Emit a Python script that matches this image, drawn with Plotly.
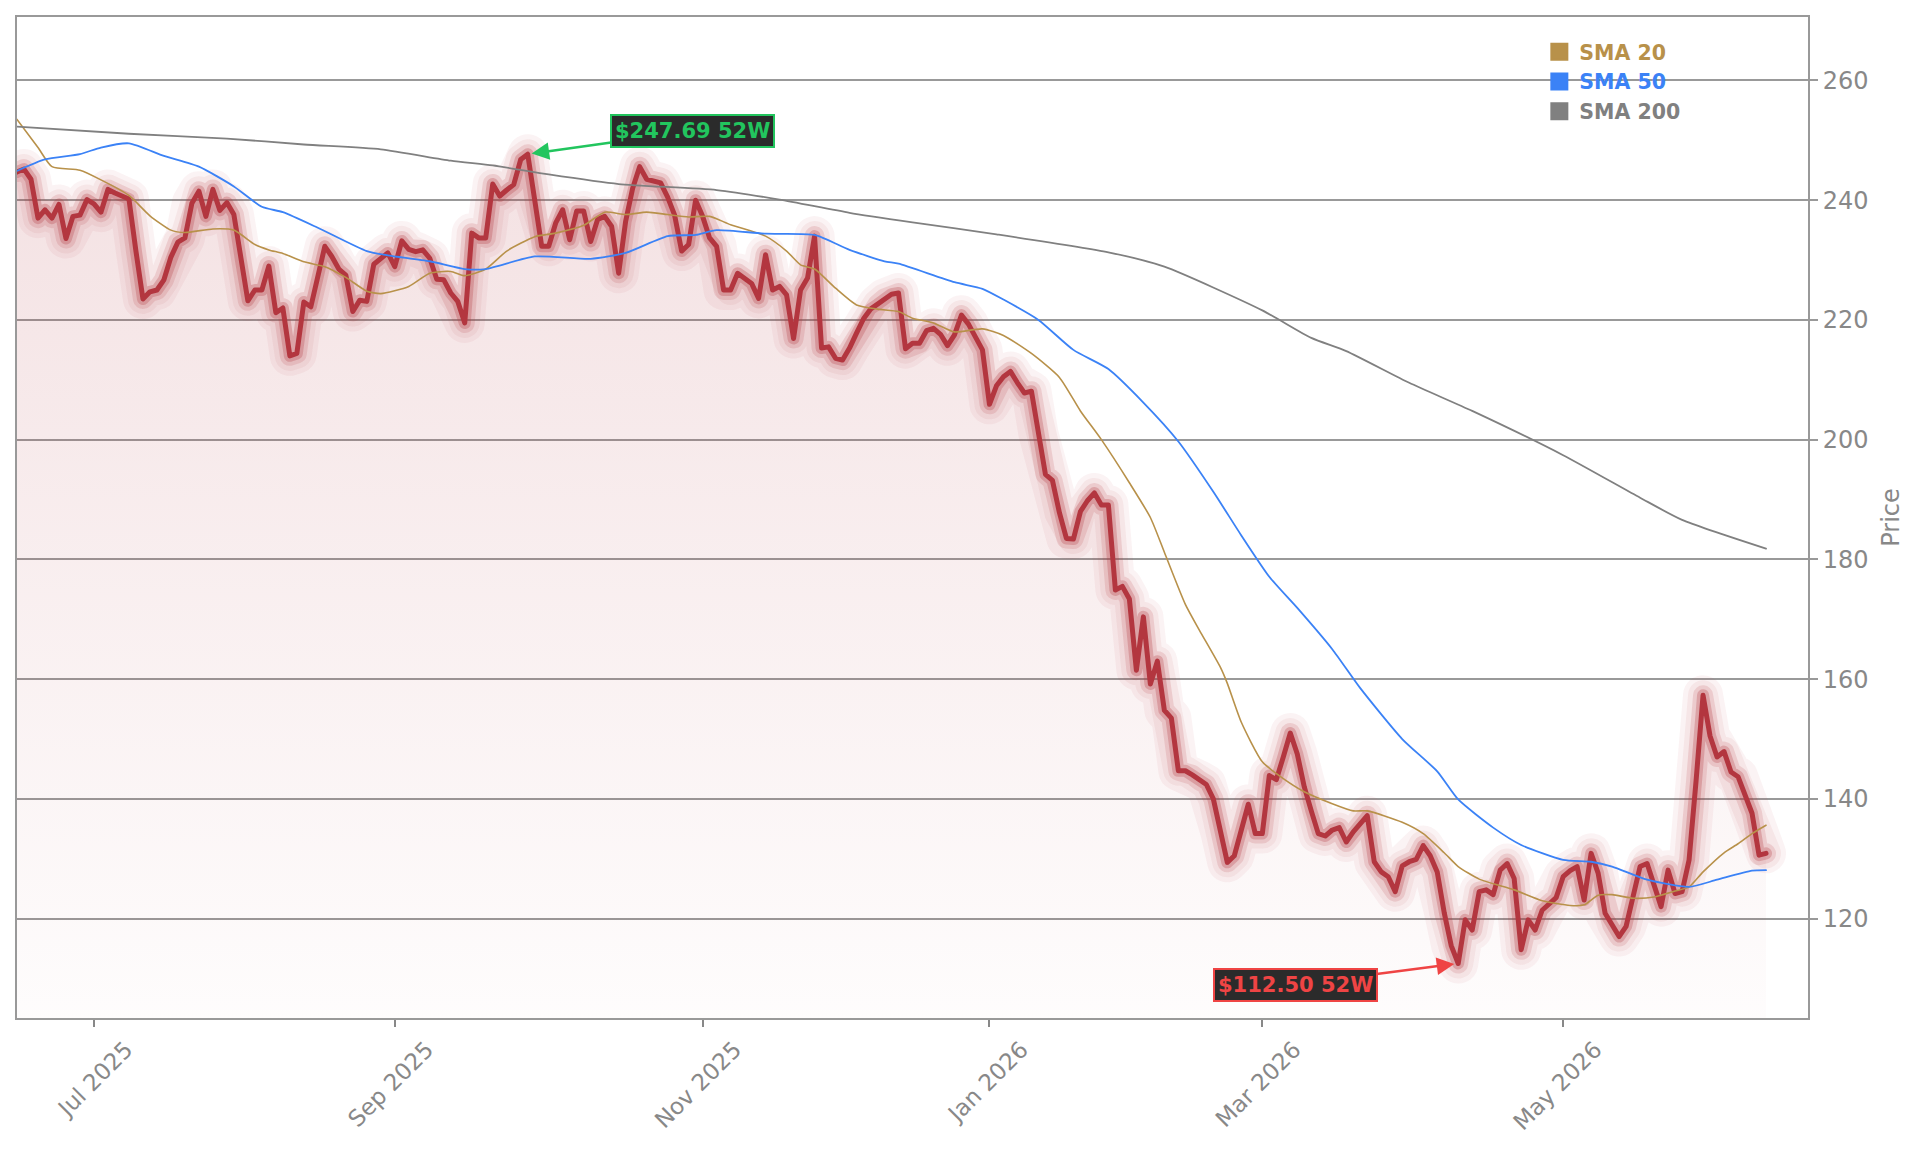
import pandas as pd
import plotly.graph_objects as go

# ---------------- data ----------------
holidays = ["2025-06-19", "2025-07-04", "2025-09-01", "2025-11-27", "2025-12-25",
            "2026-01-01", "2026-01-19", "2026-02-16", "2026-04-03", "2026-05-25",
            "2026-06-19"]
start_date = "2025-06-13"

price = [
    244.7, 245.2, 243.5, 237.0, 238.4, 237.0, 239.3, 233.6, 237.3, 237.5,
    240.1, 239.4, 238.0, 241.8, 241.2, 240.7, 240.2, 231.5, 223.5, 224.7,
    225.0, 226.7, 230.5, 233.0, 233.7, 239.5, 241.5, 237.3, 241.8, 238.3,
    239.6, 237.6, 230.0, 223.2, 225.0, 225.0, 229.0, 221.2, 222.0, 214.0,
    214.4, 223.0, 222.2, 227.5, 232.3, 230.6, 228.5, 227.5, 221.4, 223.3,
    223.1, 229.3, 230.2, 231.2, 228.9, 233.2, 231.8, 231.4, 231.7, 230.3,
    226.8, 226.7, 224.5, 223.1, 219.5, 234.5, 233.7, 233.7, 242.7, 240.7,
    241.7, 242.6, 246.8, 247.69, 240.0, 232.3, 232.3, 236.2, 238.4, 233.4,
    238.2, 238.2, 233.1, 236.8, 237.3, 235.6, 227.8, 236.5, 242.0, 245.6,
    243.5, 243.2, 242.9, 240.5, 237.5, 231.5, 232.6, 240.0, 237.3, 233.7,
    232.3, 225.0, 225.0, 227.8, 227.0, 226.1, 223.6, 230.9, 225.0, 225.6,
    224.2, 216.9, 225.0, 227.0, 234.0, 215.3, 215.5, 213.6, 213.3, 215.3,
    217.8, 220.2, 221.8, 222.6, 223.6, 224.3, 224.5, 215.2, 216.1, 216.1,
    218.2, 218.6, 217.6, 215.7, 217.5, 220.8, 219.3, 217.0, 215.0, 205.9,
    209.0, 210.5, 211.4, 209.5, 207.8, 208.1, 201.0, 194.2, 193.2, 187.8,
    183.5, 183.4, 188.0, 189.8, 191.1, 189.1, 189.1, 174.9, 175.5, 173.4,
    161.5, 170.4, 159.2, 163.0, 154.8, 153.5, 144.7, 144.7, 144.0, 143.1,
    142.4, 140.0, 134.5, 129.4, 130.5, 135.0, 139.1, 134.2, 134.2, 143.9,
    143.2, 147.0, 151.0, 147.5, 142.0, 138.0, 134.2, 133.8, 134.8, 135.2,
    132.8, 134.5, 135.8, 137.2, 129.5, 127.8, 127.0, 124.5, 128.8, 129.5,
    129.9, 132.2, 130.5, 127.8, 121.0, 115.5, 112.5, 119.8, 118.1, 124.5,
    124.8, 124.0, 128.1, 129.2, 126.7, 114.8, 119.8, 118.1, 121.4, 122.5,
    123.5, 127.0, 128.0, 128.7, 123.1, 130.9, 127.6, 120.9, 119.0, 117.0,
    118.7, 123.5, 128.7, 129.2, 125.8, 122.0, 128.1, 124.2, 124.5, 129.8,
    143.0, 157.3, 150.5, 147.0, 147.9, 144.5, 143.7, 140.5, 137.6, 130.6,
    130.9,
]

sma20_idx = [0, 3, 5, 9, 12, 16, 19, 22, 24, 28, 31, 34, 36, 38, 41, 44, 47, 50, 52, 56,
             59, 62, 64, 67, 70, 74, 77, 81, 84, 87, 90, 93, 96, 99, 102, 107, 110, 112, 114, 117,
             120, 123, 126, 128, 131, 134, 138, 141, 145, 149, 152, 155, 159, 162, 164, 167, 169, 172, 173, 175,
             178, 181, 184, 188, 191, 193, 198, 201, 204, 206, 209, 214, 218, 222, 224, 226, 228, 231, 234, 237,
             239, 241, 244, 246, 248, 250]
sma20_val = [253.5, 248.8, 245.6, 245.0, 243.4, 240.8, 237.4, 235.0, 234.6, 235.2,
             235.0, 232.6, 231.7, 231.1, 229.7, 228.9, 227.1, 224.8, 224.4, 225.6,
             227.8, 228.1, 227.4, 228.5, 231.5, 233.9, 234.5, 235.8, 238.0, 237.6,
             238.0, 237.6, 237.2, 237.3, 235.9, 234.0, 231.5, 229.2, 228.5, 225.3,
             222.5, 221.8, 221.4, 220.3, 219.5, 218.0, 218.5, 217.4, 214.4, 210.4,
             204.8, 200.0, 192.8, 187.0, 181.2, 172.5, 168.2, 162.0, 159.3, 152.8,
             146.2, 143.4, 141.2, 139.2, 138.0, 138.0, 136.1, 134.2, 131.0, 128.7,
             126.6, 124.8, 123.0, 122.2, 122.3, 123.9, 124.0, 123.4, 123.6, 124.6,
             125.3, 127.8, 131.0, 132.5, 134.2, 135.6]

sma50_idx = [0, 4, 9, 12, 16, 21, 26, 31, 35, 38, 43, 50, 53, 59, 64, 67, 74, 82, 87, 93,
             97, 100, 107, 114, 119, 124, 126, 134, 138, 141, 146, 151, 156, 161, 166, 171, 175, 179, 183, 188,
             192, 198, 203, 206, 211, 215, 221, 225, 228, 233, 239, 243, 248, 250]
sma50_val = [244.9, 246.8, 247.7, 248.8, 249.5, 247.4, 245.6, 242.3, 238.9, 238.0,
             235.4, 231.5, 230.8, 229.8, 228.5, 228.5, 230.6, 230.2, 231.2, 234.0,
             234.2, 235.0, 234.4, 234.2, 231.7, 229.8, 229.4, 226.3, 225.2, 223.4,
             220.0, 215.0, 211.8, 206.2, 199.7, 191.3, 184.0, 177.1, 171.9, 165.0,
             158.5, 150.0, 144.6, 139.9, 135.2, 132.3, 129.8, 129.5, 128.7, 126.5,
             125.3, 126.5, 128.0, 128.1]

sma200_idx = [0, 16, 30, 41, 52, 62, 68, 76, 86, 100, 109, 119, 128, 140, 156, 164, 178, 185, 190, 199,
              208, 221, 232, 238, 250]
sma200_val = [252.3, 251.1, 250.3, 249.3, 248.5, 246.6, 245.8, 244.3, 242.7, 241.7,
              240.1, 237.9, 236.3, 234.3, 231.3, 228.9, 221.6, 217.0, 214.8, 209.5,
              204.8, 197.4, 190.3, 186.6, 181.8]

sma_names = ["SMA 20", "SMA 50", "SMA 200"]
sma_colors = ["#b8914a", "#3b82f6", "#808080"]

# ---------------- calendar ----------------
bdays = pd.bdate_range(start_date, "2026-07-31")
trade_days = [d for d in bdays if d.strftime("%Y-%m-%d") not in holidays]
dates = trade_days[:len(price)]

hi_val = max(price)
lo_val = min(price)
hi_i = price.index(hi_val)
lo_i = price.index(lo_val)

LINE_RGB = "179,54,63"
FONT = "DejaVu Sans"

fig = go.Figure()

# gradient area under price
fig.add_trace(go.Scatter(
    x=dates, y=price, mode="lines", line=dict(width=0, color="rgba(0,0,0,0)"),
    fill="tozeroy",
    fillgradient=dict(type="vertical", start=100, stop=250,
                      colorscale=[[0, f"rgba({LINE_RGB},0.01)"], [1, f"rgba({LINE_RGB},0.15)"]]),
    hoverinfo="skip", showlegend=False))

# glow layers
for w, a in [(40, 0.06), (30, 0.065), (20, 0.15), (12, 0.27)]:
    fig.add_trace(go.Scatter(
        x=dates, y=price, mode="lines",
        line=dict(width=w, color=f"rgba({LINE_RGB},{a})", shape="linear"),
        hoverinfo="skip", showlegend=False))

# main price line
fig.add_trace(go.Scatter(
    x=dates, y=price, mode="lines", name="Price",
    line=dict(width=5, color=f"rgb({LINE_RGB})"), showlegend=False))

# SMA lines
for idx, val, name, col, w in [(sma20_idx, sma20_val, sma_names[0], sma_colors[0], 1.6),
                               (sma50_idx, sma50_val, sma_names[1], sma_colors[1], 1.8),
                               (sma200_idx, sma200_val, sma_names[2], sma_colors[2], 1.8)]:
    fig.add_trace(go.Scatter(
        x=[trade_days[k] for k in idx], y=val, mode="lines", name=name,
        line=dict(width=w, color=col, shape="spline", smoothing=0.6), showlegend=False))

# legend entries (square markers, colored bold text)
for name, col in zip(sma_names, sma_colors):
    fig.add_trace(go.Scatter(
        x=[None], y=[None], mode="markers",
        marker=dict(symbol="square", size=16, color=col, line=dict(width=2, color=col)),
        name=f'<span style="color:{col}"><b>{name}</b></span>', showlegend=True))

fig.add_annotation(
    x=dates[hi_i], y=hi_val, text=f"<b>${hi_val:.2f} 52W</b>",
    font=dict(family=FONT, size=21, color="#22c55e"),
    bgcolor="#2b2b2b", bordercolor="#22c55e", borderwidth=2, borderpad=3,
    showarrow=True, arrowhead=2, arrowsize=1.4, arrowwidth=2.5, arrowcolor="#22c55e",
    ax=165, ay=-23, standoff=4)
fig.add_annotation(
    x=dates[lo_i], y=lo_val, text=f"<b>${lo_val:.2f} 52W</b>",
    font=dict(family=FONT, size=21, color="#ef4444"),
    bgcolor="#2b2b2b", bordercolor="#ef4444", borderwidth=2, borderpad=3,
    showarrow=True, arrowhead=2, arrowsize=1.4, arrowwidth=2.5, arrowcolor="#ef4444",
    ax=-163, ay=21, standoff=4)

fig.update_layout(
    width=1921, height=1153,
    margin=dict(l=17, r=113, t=17, b=135),
    paper_bgcolor="white", plot_bgcolor="white",
    font=dict(family=FONT, size=24, color="#888888"),
    legend=dict(x=0.85, y=0.985, xanchor="left", yanchor="top",
                bgcolor="rgba(0,0,0,0)", borderwidth=0,
                font=dict(family=FONT, size=20.5)),
    showlegend=True,
)
fig.update_xaxes(
    range=[start_date, "2026-06-23"],
    rangebreaks=[dict(bounds=["sat", "mon"]), dict(values=holidays)],
    tick0="2025-07-01", dtick="M2", tickformat="%b %Y", tickangle=-45,
    ticklabelshift=32,
    showgrid=False, zeroline=False,
    showline=True, mirror=True, linecolor="#999999", linewidth=2,
    ticks="outside", ticklen=7, tickwidth=2, tickcolor="#888888",
    tickfont=dict(family=FONT, size=23, color="#888888"))
fig.update_yaxes(
    side="right", range=[103.4, 270.6], dtick=20,
    title=dict(text="Price", font=dict(family=FONT, size=24, color="#888888")),
    showgrid=True, gridcolor="#999999", gridwidth=1.5, zeroline=False,
    showline=True, mirror=True, linecolor="#999999", linewidth=2,
    ticks="outside", ticklen=8, tickwidth=2, tickcolor="#999999",
    tickfont=dict(family=FONT, size=24, color="#888888"))

round_joins = ("var s=document.createElement('style');"
               "s.textContent='.scatterlayer .js-line{stroke-linejoin:round;stroke-linecap:round;}';"
               "document.head.appendChild(s);")
fig.write_html("out.html", post_script=round_joins)
